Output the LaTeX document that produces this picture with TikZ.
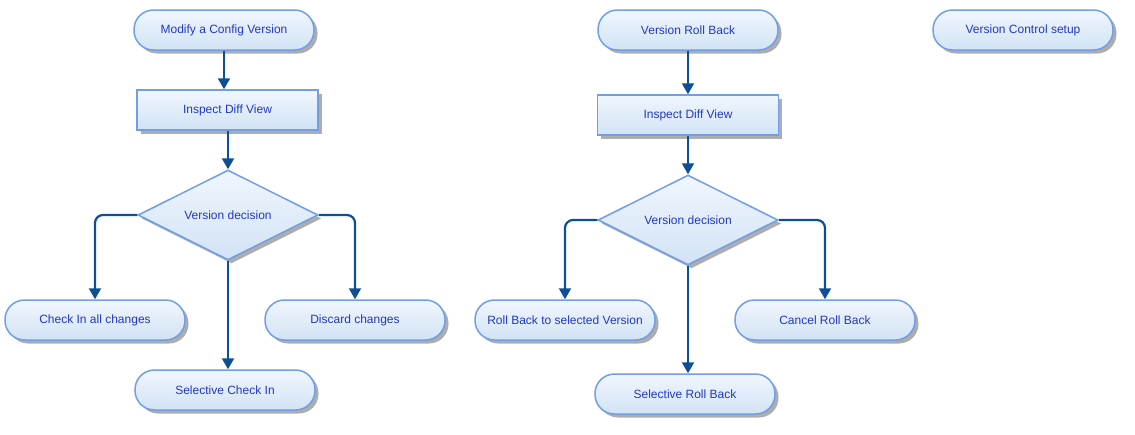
\documentclass[tikz,border=0pt]{standalone}
\usepackage{fontspec}
\setmainfont{Liberation Sans}
\usepackage{tikz}
\usetikzlibrary{arrows.meta,shapes.geometric,positioning,shadows}
\definecolor{flowborder}{RGB}{112,158,232}
\definecolor{flowtop}{RGB}{240,246,253}
\definecolor{flowbottom}{RGB}{210,227,245}
\definecolor{flowarrowblue}{RGB}{14,78,148}
\definecolor{flowtext}{RGB}{34,56,196}
\tikzset{
    % Basic box look (light blue gradient, soft shadow)
    flowbox/.style={
        draw=flowborder, line width=1.5pt,
        top color=flowtop, bottom color=flowbottom,
        drop shadow={shadow xshift=3.5pt, shadow yshift=-3.5pt,
                     fill=black!32, opacity=1},
        text=flowtext, font=\fontsize{12}{14}\selectfont,
        inner sep=0pt
    },
    % Start/end terminals (stadium shape)
    terminal/.style={flowbox, rectangle, rounded corners=19.5pt,
        minimum width=180pt, minimum height=40pt},
    % Process step
    process/.style={flowbox, rectangle,
        minimum width=181pt, minimum height=40pt},
    % Decision diamond
    decision/.style={flowbox, diamond, aspect=2,
        minimum width=180pt, minimum height=90pt},
    % Connectors
    flowarrow/.style={line width=2.2pt, flowarrowblue,
        -{Triangle[length=11pt,width=12pt]}},
    branch/.style={flowarrow, rounded corners=8pt},
}
\begin{document}
\begin{tikzpicture}[x=1pt,y=-1pt]
      \useasboundingbox (0,0) rectangle (1135,434);
      % check-in flow
      \node[terminal] (modify)    at (224,30)  {Modify a Config Version};
      \node[process]  (inspectA)  at (227.5,110) {Inspect Diff View};
      \node[decision] (decideA)   at (228,215) {Version decision};
      \node[terminal] (checkall)  at (95,320)  {Check In all changes};
      \node[terminal] (discard)   at (355,320) {Discard changes};
      \node[terminal] (selcheck)  at (225,390) {Selective Check In};
      \draw[flowarrow] (modify) -- (modify |- inspectA.north);
      \draw[flowarrow] (inspectA.south -| decideA) -- (decideA.north);
      \draw[branch] (decideA.west) -| (checkall.north);
      \draw[branch] (decideA.east) -| (discard.north);
      \draw[flowarrow] (decideA.south) -- (decideA.south |- selcheck.north);
      % roll-back flow
      \node[terminal] (rollback)  at (688,30)  {Version Roll Back};
      \node[process]  (inspectB)  at (688,115) {Inspect Diff View};
      \node[decision] (decideB)   at (688,220) {Version decision};
      \node[terminal] (rollsel)   at (565,320) {Roll Back to selected Version};
      \node[terminal] (cancel)    at (825,320) {Cancel Roll Back};
      \node[terminal] (selroll)   at (685,394) {Selective Roll Back};
      \draw[flowarrow] (rollback) -- (inspectB);
      \draw[flowarrow] (inspectB) -- (decideB);
      \draw[branch] (decideB.west) -| (rollsel.north);
      \draw[branch] (decideB.east) -| (cancel.north);
      \draw[flowarrow] (decideB.south) -- (decideB.south |- selroll.north);
      % stand-alone terminal
      \node[terminal] (vcsetup)   at (1023,30) {Version Control setup};
    \end{tikzpicture}
\end{document}
